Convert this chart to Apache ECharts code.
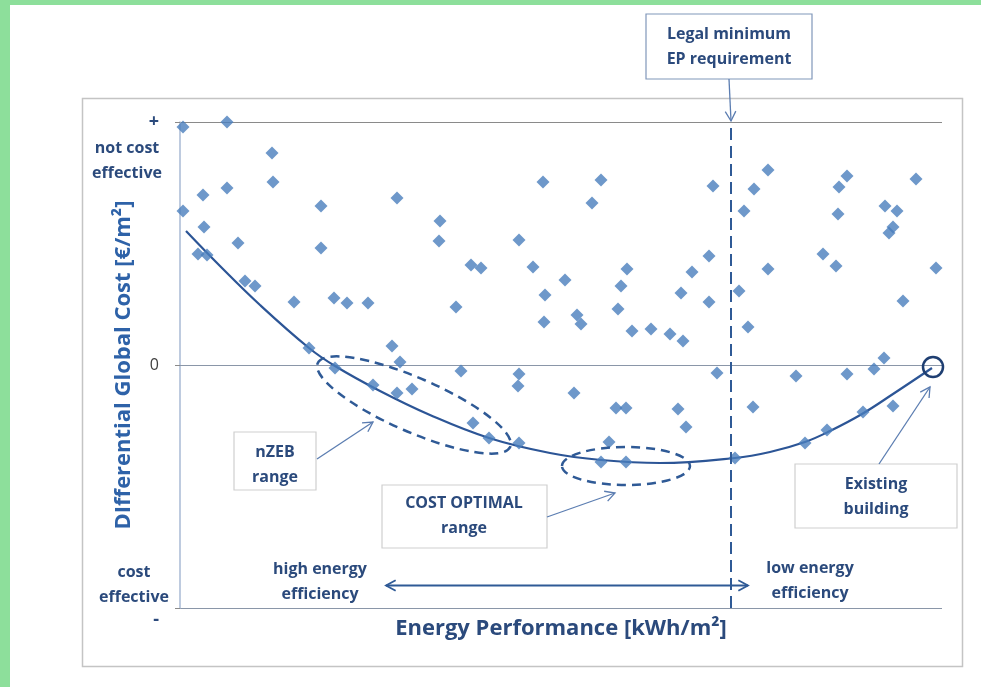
<!DOCTYPE html>
<html><head><meta charset="utf-8">
<script src="https://cdn.jsdelivr.net/npm/echarts@6/dist/echarts.min.js"></script>
<style>html,body{margin:0;padding:0;background:#fff}#c{width:981px;height:687px}</style>
</head><body><div id="c"></div>
<script>
// Conceptual units: x = energy performance (0..762), y = differential global cost (-243..243)
const pointX = [3,47,92,93,47,23,3,141,217,363,24,58,18,27,141,260,259,339,65,75,114,154,167,188,291,301,353,276,365,364,129,212,220,155,281,339,338,193,217,232,421,412,533,588,574,564,667,659,658,736,705,717,713,709,385,397,401,447,441,438,452,471,490,503,512,529,501,529,559,568,643,656,588,756,723,704,694,667,616,537,394,436,446,293,309,339,429,421,446,498,506,573,555,625,647,683,713];
const pointY = [238,243,212,183,177,170,154,159,167,183,138,122,111,110,117,144,124,125,84,79,63,67,62,62,100,97,98,58,70,43,17,19,3,-3,-6,-9,-21,-20,-28,-24,185,162,179,195,176,154,189,178,151,186,159,154,138,132,85,50,41,96,79,56,34,36,31,24,93,109,72,63,74,38,111,99,96,97,64,7,-4,-9,-11,-8,-28,-43,-43,-58,-73,-78,-77,-97,-97,-44,-62,-42,-93,-78,-65,-47,-41];
const curveX = [6,40,80,129,155,200,250,309,370,421,480,555,590,625,650,682,713,752];
const curveY = [134,99,60,17,-1,-26,-50,-73,-88,-95,-98,-93,-87,-77,-66,-49,-29,-3];
const legalMinimumX = 551;
const yTickValues = [-243, 0, 243];
const yTickLabels = ['-', '0', '+'];
const yNotes = ['not cost\neffective', 'cost\neffective'];
const xTitle = 'Energy Performance [kWh/m²]';
const yTitle = 'DIfferential Global Cost [€/m²]';

const NAVY = '#2B4A7C';
const BLUE = '#2F5A96';
const FONT = '"Open Sans", Lato, sans-serif';

const chart = echarts.init(document.getElementById('c'));
const scatterData = pointX.map((x, i) => [x, pointY[i]]);
const curveData = curveX.map((x, i) => [x, curveY[i]]);

chart.setOption({
  backgroundColor: '#fff',
  animation: false,
  grid: { left: 180, right: 39, top: 122, bottom: 79 },
  xAxis: {
    type: 'value', min: 0, max: 762,
    name: xTitle, nameLocation: 'middle', nameGap: 10,
    nameTextStyle: { color: NAVY, fontSize: 22, fontWeight: 'bold', fontFamily: FONT },
    axisLine: { show: true, lineStyle: { color: '#8A96A8', width: 1.2 } },
    axisTick: { show: false }, axisLabel: { show: false }, splitLine: { show: false }
  },
  yAxis: {
    type: 'value', min: -243, max: 243, interval: 243,
    name: yTitle, nameLocation: 'middle', nameGap: 45, nameRotate: 90,
    nameTextStyle: { color: '#2E62A8', fontSize: 22, fontWeight: 'bold', fontFamily: FONT },
    axisLine: { show: true, lineStyle: { color: '#A9BAD4', width: 1.5 } },
    axisTick: { show: true, length: 5, lineStyle: { color: '#8A8A8A' } },
    axisLabel: {
      margin: 21,
      formatter: v => {
        const i = yTickValues.indexOf(Math.round(v));
        if (i < 0) return '';
        const lab = yTickLabels[i];
        if (lab === '0') return '{z|0}';
        if (lab === '-') return '{m|-}';
        return '{p|+}';
      },
      rich: {
        z: { color: '#404040', fontSize: 16, fontFamily: FONT },
        p: { color: NAVY, fontSize: 18, fontWeight: 'bold', fontFamily: FONT },
        m: { color: NAVY, fontSize: 18, fontWeight: 'bold', fontFamily: FONT, padding: [24, 0, 0, 0] }
      }
    },
    splitLine: { show: true, lineStyle: { color: ['#8A96A8', '#C4C4C4', '#8A8A8A'], width: 1.2 } }
  },
  series: [
    {
      type: 'line', data: curveData, smooth: 0.4, symbol: 'none', z: 3,
      lineStyle: { color: '#2C5596', width: 2.2 }
    },
    {
      type: 'scatter', data: scatterData, symbol: 'diamond', symbolSize: 13, z: 4,
      itemStyle: { color: '#4A7EBD' },
      markLine: {
        silent: true, symbol: 'none', label: { show: false },
        lineStyle: { color: BLUE, width: 2, type: [12, 6] },
        data: [{ xAxis: legalMinimumX }]
      }
    }
  ]
});

function P(x, y) { return chart.convertToPixel({ gridIndex: 0 }, [x, y]); }
function head(x1, y1, x2, y2, len, color, w) {
  const a = Math.atan2(y2 - y1, x2 - x1);
  const p1 = [x2 - len * Math.cos(a - 0.5), y2 - len * Math.sin(a - 0.5)];
  const p2 = [x2 - len * Math.cos(a + 0.5), y2 - len * Math.sin(a + 0.5)];
  return { type: 'polyline', shape: { points: [p1, [x2, y2], p2] }, style: { stroke: color, lineWidth: w, fill: null }, z: 20 };
}
function arrow(x1, y1, x2, y2, color, w) {
  return [
    { type: 'line', shape: { x1, y1, x2, y2 }, style: { stroke: color, lineWidth: w }, z: 20 },
    head(x1, y1, x2, y2, 11, color, w)
  ];
}
function box(x, y, w, h, stroke) {
  return { type: 'rect', shape: { x, y, width: w, height: h }, style: { fill: '#fff', stroke: stroke || '#CFCFCF', lineWidth: 1.2 }, z: 18 };
}
function txt(x, y, text, size, color, weight) {
  return { type: 'text', x, y, z: 21, style: { text, fill: color || NAVY, font: (weight || 'bold') + ' ' + (size || 16) + 'px ' + FONT,
    textAlign: 'center', textVerticalAlign: 'middle', align: 'center', verticalAlign: 'middle', lineHeight: 25 } };
}

const e1 = P(234, -40), e2 = P(446, -101), ring = P(753, -2);
const legalTop = P(legalMinimumX, 243);
let g = [
  { type: 'rect', shape: { x: 0, y: 0, width: 981, height: 5 }, style: { fill: '#8DDF9B' }, z: 30 },
  { type: 'rect', shape: { x: 0, y: 0, width: 10, height: 687 }, style: { fill: '#8DDF9B' }, z: 30 },
  { type: 'rect', shape: { x: 82.5, y: 98.5, width: 880, height: 568 }, style: { fill: null, stroke: '#C4C4C4', lineWidth: 1.5 }, z: -1 },
  { type: 'ellipse', x: e1[0], y: e1[1], rotation: -0.41, shape: { cx: 0, cy: 0, rx: 105, ry: 27 },
    style: { fill: null, stroke: BLUE, lineWidth: 2.5, lineDash: [9, 6] }, z: 15 },
  { type: 'ellipse', x: e2[0], y: e2[1], shape: { cx: 0, cy: 0, rx: 64, ry: 19 },
    style: { fill: null, stroke: BLUE, lineWidth: 2.5, lineDash: [9, 6] }, z: 15 },
  { type: 'circle', shape: { cx: ring[0], cy: ring[1], r: 10 }, style: { fill: null, stroke: '#1F3F72', lineWidth: 2.5 }, z: 15 },
  // legal minimum box
  box(646, 14, 166, 65, '#8097BA'),
  txt(729, 47, 'Legal minimum\nEP requirement', 16),
  ...arrow(729, 79, legalTop[0], legalTop[1] - 1, '#5B7DB1', 1.3),
  // nZEB
  box(234, 432, 82, 58),
  txt(275, 465, 'nZEB\nrange', 16),
  ...arrow(317, 459, 373, 422, '#5B7DB1', 1.3),
  // cost optimal
  box(382, 485, 165, 63),
  txt(464, 516, 'COST OPTIMAL\nrange', 16),
  ...arrow(547, 517, 615, 493, '#5B7DB1', 1.3),
  // existing building
  box(795, 464, 162, 64),
  txt(876, 497, 'Existing\nbuilding', 16),
  ...arrow(879, 464, 930, 387, '#5B7DB1', 1.3),
  // efficiency double arrow
  { type: 'line', shape: { x1: 386, y1: 585.5, x2: 748, y2: 585.5 }, style: { stroke: BLUE, lineWidth: 1.8 }, z: 20 },
  head(748, 585.5, 386, 585.5, 11, BLUE, 1.8),
  head(386, 585.5, 748, 585.5, 11, BLUE, 1.8),
  txt(320, 582, 'high energy\nefficiency', 16),
  txt(810, 581, 'low energy\nefficiency', 16),
  // y-axis end notes
  txt(127, 161, yNotes[0], 16),
  txt(134, 585, yNotes[1], 16)
];
chart.setOption({ graphic: { elements: g } });
</script></body></html>
